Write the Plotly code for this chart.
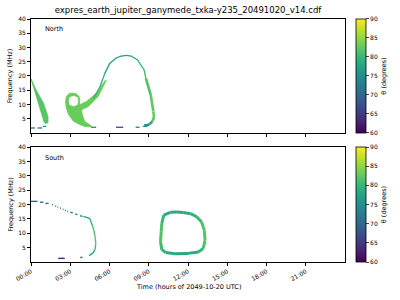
import plotly.graph_objects as go
from plotly.subplots import make_subplots
from plotly.colors import sample_colorscale

TITLE = "expres_earth_jupiter_ganymede_txka-y235_20491020_v14.cdf"
X_TICK_HOURS = [0, 3, 6, 9, 12, 15, 18, 21]
X_TICK_LABELS = ["00:00", "03:00", "06:00", "09:00", "12:00", "15:00", "18:00", "21:00"]
Y_TICKS = [5, 10, 15, 20, 25, 30, 35, 40]
CB_TICKS = [60, 65, 70, 75, 80, 85, 90]
CMIN, CMAX = 60, 90

# ---------------- North hemisphere ----------------
# left emission band (outline, hours / MHz)
north_band_t = [0.0, 0.25, 0.58, 0.88, 1.0, 1.1, 1.3, 1.3, 0.95, 0.38, 0.04, 0.0]
north_band_f = [19.0, 15.2, 10.5, 5.8, 3.8, 3.3, 3.6, 5.8, 10.5, 15.2, 18.9, 19.0]
north_band_theta = 82

# central loop + wedge (outline)
north_core_t = [3.13, 3.45, 3.68, 3.72, 3.7, 4.25, 5.0, 5.7, 5.75, 5.13, 4.38, 3.85, 3.95,
                4.1, 4.6, 4.6, 4.1, 3.75, 3.25, 2.88, 2.7, 2.64, 2.7, 2.9, 3.13]
north_core_f = [14.0, 13.8, 12.8, 11.5, 9.9, 11.05, 14.0, 18.6, 18.4, 12.8, 9.3, 8.1, 6.0,
                4.1, 2.5, 2.1, 2.3, 2.9, 4.1, 6.4, 8.7, 11.0, 12.8, 13.8, 14.0]
north_core_theta = 83
# empty region inside the loop
north_hole_t = [2.9, 2.96, 3.25, 3.54, 3.6, 3.54, 3.25, 2.96, 2.9]
north_hole_f = [11.2, 12.5, 13.0, 12.5, 11.2, 9.9, 9.4, 9.9, 11.2]

# big arc
north_arc_t = [4.78, 5.28, 5.65, 6.03, 6.53, 6.9, 7.3, 7.65, 8.15, 8.65, 8.78]
north_arc_f = [12.2, 16.3, 21.0, 24.5, 26.4, 27.0, 27.2, 27.0, 25.6, 22.1, 19.2]
north_arc_theta = [80, 79, 78, 77, 77, 77, 77, 78, 79, 80, 81]
# descending thicker branch
north_fall_t = [8.78, 9.15, 9.35, 9.4, 9.28, 9.03, 8.65]
north_fall_f = [19.2, 13.4, 7.6, 5.5, 4.1, 2.9, 2.6]
north_fall_theta = [81, 82, 83, 83, 81, 76, 74]

# low-frequency dashes
north_dash_t = [0.0, 0.3, None, 0.5, 0.85, None, 0.9, 1.15, None, 4.6, 4.98, None,
                6.5, 7.05, None, 8.0, 8.3, None, 8.55, 8.9]
north_dash_f = [1.75, 1.75, None, 1.75, 1.75, None, 2.3, 2.3, None, 2.0, 2.0, None,
                2.0, 2.0, None, 2.0, 2.0, None, 2.3, 2.4]
north_dash_theta = [72, 72, None, 72, 72, None, 74, 74, None, 73, 73, None,
                    66, 66, None, 73, 73, None, 74, 74]

# ---------------- South hemisphere ----------------
south_track_t = [0.0, 0.5, None, 0.68, 0.95, None, 1.1, 1.35, None, 1.6, 1.67, None,
                 1.85, 1.92, None, 2.02, 2.09, None, 2.22, 2.29, None, 2.42, 2.49, None,
                 2.6, 2.67, None, 2.77, 2.84, None, 3.0, 3.2, None, 3.38, 3.55, None,
                 3.75, 3.95, None, 4.0, 4.2, 4.5, 4.58, 4.68, 4.8, 4.9, 4.95, 4.9, 4.75,
                 4.5, 4.45, None, 3.75, 3.95, None, 2.08, 2.58]
south_track_f = [21.1, 21.1, None, 20.8, 20.8, None, 20.4, 20.4, None, 20.0, 19.9, None,
                 19.5, 19.4, None, 19.2, 19.1, None, 18.8, 18.7, None, 18.4, 18.3, None,
                 18.0, 17.9, None, 17.7, 17.6, None, 17.3, 17.1, None, 16.7, 16.5, None,
                 16.1, 15.9, None, 15.8, 15.6, 15.1, 14.0, 12.8, 11.1, 8.8, 6.5, 4.4, 3.2,
                 2.4, 2.2, None, 1.6, 1.6, None, 1.27, 1.27]
south_track_theta = [70, 70, None, 70, 70, None, 71, 71, None, 71, 71, None,
                     72, 72, None, 72, 72, None, 72, 72, None, 73, 73, None,
                     73, 73, None, 73, 73, None, 74, 74, None, 74, 74, None,
                     75, 75, None, 76, 77, 78, 79, 80, 81, 82, 82, 80, 78,
                     76, 76, None, 75, 75, None, 63, 63]

south_loop_t = [10.15, 10.65, 11.15, 11.65, 12.2, 12.65, 13.03, 13.25, 13.3, 13.16, 12.8,
                12.0, 11.0, 10.3, 10.0, 9.9, 9.95, 10.0, 10.15]
south_loop_f = [16.3, 17.3, 17.4, 17.2, 16.8, 15.8, 14.0, 11.0, 7.5, 4.7, 3.5,
                3.0, 2.9, 3.3, 4.3, 7.0, 10.5, 13.5, 16.3]
south_loop_theta = [79, 78, 78, 78, 79, 80, 81, 82, 82, 81, 79,
                    78, 78, 79, 80, 81, 82, 81, 79]

FONT = "DejaVu Sans"


def col(th):
    return sample_colorscale("Viridis", [(th - CMIN) / (CMAX - CMIN)])[0]


def add_path(fig, t, f, th, row, width):
    groups = {}
    for i in range(len(t) - 1):
        if t[i] is None or t[i + 1] is None:
            continue
        c = col((th[i] + th[i + 1]) / 2)
        xs, ys = groups.setdefault(c, ([], []))
        xs += [t[i], t[i + 1], None]
        ys += [f[i], f[i + 1], None]
    for c, (xs, ys) in groups.items():
        fig.add_trace(go.Scatter(x=xs, y=ys, mode="lines", line=dict(color=c, width=width),
                                 hoverinfo="skip", showlegend=False), row=row, col=1)


def add_poly(fig, t, f, th, row, color=None, lw=0.8):
    c = color if color is not None else col(th)
    fig.add_trace(go.Scatter(x=t, y=f, mode="lines", fill="toself", fillcolor=c,
                             line=dict(color=c, width=lw), hoverinfo="skip",
                             showlegend=False), row=row, col=1)


fig = make_subplots(rows=2, cols=1, shared_xaxes=True, vertical_spacing=0.058)

# North
add_poly(fig, north_band_t, north_band_f, north_band_theta, 1)
add_poly(fig, north_core_t, north_core_f, north_core_theta, 1)
add_poly(fig, north_hole_t, north_hole_f, None, 1, color="white", lw=0.3)
add_path(fig, north_arc_t, north_arc_f, north_arc_theta, 1, 1.3)
add_path(fig, north_fall_t, north_fall_f, north_fall_theta, 1, 2.6)
add_path(fig, north_dash_t, north_dash_f, north_dash_theta, 1, 1.3)
fig.add_trace(go.Scatter(x=north_arc_t, y=north_arc_f, mode="markers",
                         marker=dict(size=1, color=north_arc_theta, coloraxis="coloraxis"),
                         hoverinfo="skip", showlegend=False), row=1, col=1)

# South
add_path(fig, south_track_t, south_track_f, south_track_theta, 2, 1.4)
add_path(fig, south_loop_t, south_loop_f, south_loop_theta, 2, 3)
fig.add_trace(go.Scatter(x=south_loop_t, y=south_loop_f, mode="markers",
                         marker=dict(size=1, color=south_loop_theta, coloraxis="coloraxis2"),
                         hoverinfo="skip", showlegend=False), row=2, col=1)

axis_common = dict(showline=True, mirror=True, linecolor="black", linewidth=0.8,
                   ticks="outside", ticklen=3, tickwidth=0.8, tickcolor="black",
                   showgrid=False, zeroline=False,
                   tickfont=dict(family=FONT, size=6, color="black"))

fig.update_xaxes(range=[0, 24], tickvals=X_TICK_HOURS, ticktext=X_TICK_LABELS, **axis_common)
fig.update_xaxes(showticklabels=False, row=1, col=1)
fig.update_xaxes(tickangle=-30, row=2, col=1)
fig.update_yaxes(range=[0, 40], tickvals=Y_TICKS, **axis_common)

TOP_DOM = [0.531, 1.0]
BOT_DOM = [0.0, 0.473]
fig.update_layout(yaxis=dict(domain=TOP_DOM), yaxis2=dict(domain=BOT_DOM))


def cbar(dom):
    return dict(colorscale="Viridis", cmin=CMIN, cmax=CMAX,
                colorbar=dict(x=1.0345, xanchor="left", thickness=10, thicknessmode="pixels",
                              len=dom[1] - dom[0], lenmode="fraction", y=(dom[0] + dom[1]) / 2,
                              yanchor="middle", ypad=0, xpad=0,
                              outlinewidth=0.8, outlinecolor="black",
                              tickvals=CB_TICKS, ticks="outside", ticklen=3, tickwidth=0.8,
                              tickfont=dict(family=FONT, size=6, color="black"),
                              title=dict(text="θ (degrees)", side="right",
                                         font=dict(family=FONT, size=6.5, color="black"))))


fig.update_layout(
    width=400, height=300,
    margin=dict(l=31, r=50, t=19, b=38),
    paper_bgcolor="white", plot_bgcolor="white",
    coloraxis=cbar(TOP_DOM), coloraxis2=cbar(BOT_DOM),
    title=dict(text=TITLE, x=0.5, xref="paper", xanchor="center", y=1 - 10 / 300,
               yref="container", yanchor="middle",
               font=dict(family=FONT, size=8.5, color="black")),
    showlegend=False,
    annotations=[
        dict(text="North", x=0.038, y=0.959, xref="paper", yref="paper", xanchor="left",
             yanchor="middle", showarrow=False, font=dict(family=FONT, size=6.5, color="black")),
        dict(text="South", x=0.038, y=0.428, xref="paper", yref="paper", xanchor="left",
             yanchor="middle", showarrow=False, font=dict(family=FONT, size=6.5, color="black")),
        dict(text="Time (hours of 2049-10-20 UTC)", x=0.5, y=-0.103, xref="paper", yref="paper",
             xanchor="center", yanchor="middle", showarrow=False,
             font=dict(family=FONT, size=6.5, color="black")),
        dict(text="Frequency (MHz)", x=-0.066, y=(TOP_DOM[0] + TOP_DOM[1]) / 2, xref="paper",
             yref="paper", xanchor="center", yanchor="middle", textangle=-90, showarrow=False,
             font=dict(family=FONT, size=6.5, color="black")),
        dict(text="Frequency (MHz)", x=-0.066, y=(BOT_DOM[0] + BOT_DOM[1]) / 2, xref="paper",
             yref="paper", xanchor="center", yanchor="middle", textangle=-90, showarrow=False,
             font=dict(family=FONT, size=6.5, color="black")),
    ],
)

fig.write_html("out.html")
